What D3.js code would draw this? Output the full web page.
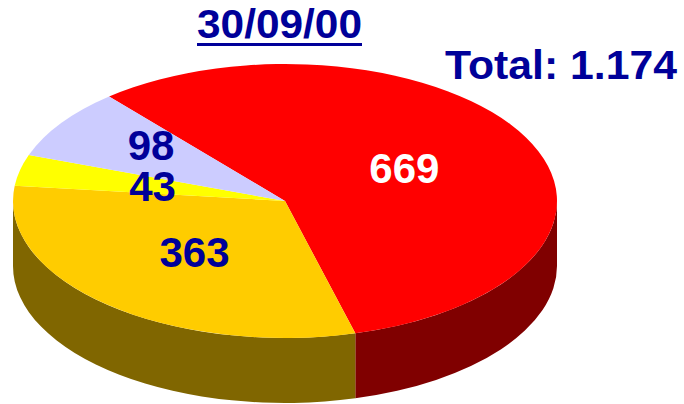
<!DOCTYPE html>
<html>
<head>
<meta charset="utf-8">
<script src="https://cdn.jsdelivr.net/npm/d3@7"></script>
<style>
  html, body { margin: 0; padding: 0; background: #fff; }
  svg { display: block; }
  text { font-family: "Liberation Sans", Arial, Helvetica, sans-serif; font-weight: bold; }
</style>
</head>
<body>
<div id="chart"></div>
<script>
// data
var categories = ["A", "B", "C", "D"];
var values = [669, 363, 43, 98];
var topColors = ["#ff0000", "#ffcc00", "#ffff00", "#ccccff"];
var sideColors = ["#800000", "#806600", "#808000", "#666680"];
var labelColors = ["#ffffff", "#000099", "#000099", "#000099"];
var titleText = "30/09/00";
var totalText = "Total: 1.174";

var width = 684, height = 404;
var cx = 285, cy = 201, rx = 272, ry = 137, depth = 65;
var ink = "#000099";

var svg = d3.select("#chart").append("svg")
    .attr("width", width)
    .attr("height", height);

var color = d3.scaleOrdinal().domain(categories).range(topColors);
var side = d3.scaleOrdinal().domain(categories).range(sideColors);
var labelColor = d3.scaleOrdinal().domain(categories).range(labelColors);

var startDeg = -40.3;
var pie = d3.pie()
    .sort(null)
    .value(function(d) { return d.value; })
    .startAngle(startDeg * Math.PI / 180)
    .endAngle(startDeg * Math.PI / 180 + 2 * Math.PI);

var rows = categories.map(function(c, i) { return {cat: c, value: values[i]}; });
var arcs = pie(rows);

// d3 pie angle (clockwise from 12 o'clock) -> screen angle (clockwise from 3 o'clock)
function scr(a) { return a - Math.PI / 2; }
function px(t) { return cx + rx * Math.cos(t); }
function py(t, dz) { return cy + ry * Math.sin(t) + (dz || 0); }

function topPath(d) {
  var t0 = scr(d.startAngle), t1 = scr(d.endAngle);
  var large = (t1 - t0) > Math.PI ? 1 : 0;
  return "M" + cx + "," + cy +
    "L" + px(t0) + "," + py(t0) +
    "A" + rx + "," + ry + " 0 " + large + " 1 " + px(t1) + "," + py(t1) + "Z";
}

// visible part of the rim: screen angles in [0, PI] (mod 2PI)
function sidePath(d) {
  var t0 = scr(d.startAngle), t1 = scr(d.endAngle);
  var parts = [];
  [-2 * Math.PI, 0, 2 * Math.PI].forEach(function(k) {
    var a = Math.max(t0, k), b = Math.min(t1, k + Math.PI);
    if (b > a) parts.push([a, b]);
  });
  return parts.map(function(p) {
    var a = p[0], b = p[1];
    return "M" + px(a) + "," + py(a) +
      "A" + rx + "," + ry + " 0 0 1 " + px(b) + "," + py(b) +
      "L" + px(b) + "," + py(b, depth) +
      "A" + rx + "," + ry + " 0 0 0 " + px(a) + "," + py(a, depth) + "Z";
  }).join("");
}

var g = svg.append("g");

g.selectAll("path.side")
    .data(arcs)
    .enter().append("path")
    .attr("class", "side")
    .attr("d", sidePath)
    .attr("fill", function(d) { return side(d.data.cat); });

g.selectAll("path.top")
    .data(arcs)
    .enter().append("path")
    .attr("class", "top")
    .attr("d", topPath)
    .attr("fill", function(d) { return color(d.data.cat); });

// label placement (fraction of radius, angle nudge in degrees)
var labelR = [0.5, 0.5, 0.5, 0.64];
var labelNudge = [-1, 1, 0, 5];

g.selectAll("text.lbl")
    .data(arcs)
    .enter().append("text")
    .attr("class", "lbl")
    .attr("x", function(d, i) {
      var t = scr((d.startAngle + d.endAngle) / 2) + labelNudge[i] * Math.PI / 180;
      return cx + rx * labelR[i] * Math.cos(t);
    })
    .attr("y", function(d, i) {
      var t = scr((d.startAngle + d.endAngle) / 2) + labelNudge[i] * Math.PI / 180;
      return cy + ry * labelR[i] * Math.sin(t);
    })
    .attr("dy", "0.36em")
    .attr("text-anchor", "middle")
    .attr("font-size", 42)
    .attr("fill", function(d) { return labelColor(d.data.cat); })
    .text(function(d) { return d.data.value; });

// title
svg.append("text")
    .attr("x", 197)
    .attr("y", 38)
    .attr("font-size", 40)
    .attr("textLength", 165)
    .attr("lengthAdjust", "spacingAndGlyphs")
    .attr("fill", ink)
    .text(titleText);

svg.append("rect")
    .attr("x", 197)
    .attr("y", 43)
    .attr("width", 165)
    .attr("height", 3)
    .attr("fill", ink);

svg.append("text")
    .attr("x", 445)
    .attr("y", 79)
    .attr("font-size", 40)
    .attr("textLength", 232)
    .attr("lengthAdjust", "spacingAndGlyphs")
    .attr("fill", ink)
    .text(totalText);
</script>
</body>
</html>
